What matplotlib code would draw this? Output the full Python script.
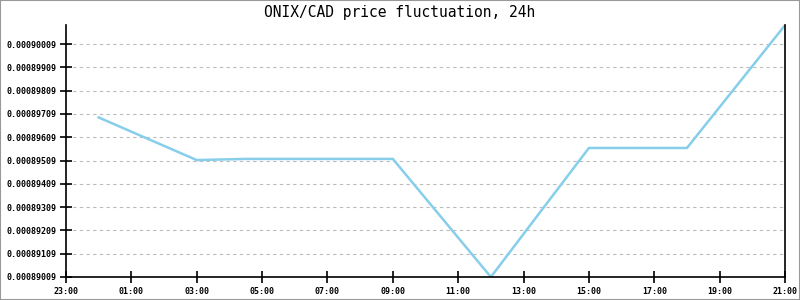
import matplotlib
matplotlib.use("Agg")
import matplotlib.pyplot as plt
from matplotlib.patches import Rectangle

# data
time_labels = ["00:00", "03:00", "04:30", "09:00", "12:00", "15:00", "18:00", "21:00"]
hours_from_start = [1, 4, 5.5, 10, 13, 16, 19, 22]   # hours after 23:00
prices = [0.00089694, 0.00089511, 0.00089516, 0.00089516, 0.00089009,
          0.00089563, 0.00089563, 0.00090090]
xtick_labels = ["23:00", "01:00", "03:00", "05:00", "07:00", "09:00",
                "11:00", "13:00", "15:00", "17:00", "19:00", "21:00"]
ytick_values = [0.00089009, 0.00089109, 0.00089209, 0.00089309, 0.00089409,
                0.00089509, 0.00089609, 0.00089709, 0.00089809, 0.00089909,
                0.00090009]
title = "ONIX/CAD price fluctuation, 24h"

mono = ["DejaVu Sans Mono"]

fig = plt.figure(figsize=(8, 3), dpi=100)
fig.patch.set_facecolor("white")
fig.patches.append(Rectangle((0, 0), 1, 1, transform=fig.transFigure,
                             fill=False, edgecolor="#999999", linewidth=1.5))

ax = fig.add_axes([66 / 800, 1 - 277 / 300, (785 - 66) / 800, (277 - 25) / 300])
ax.plot(hours_from_start, prices, color="#87CEEB", linewidth=1.8,
        solid_joinstyle="miter")

ax.set_xlim(0, 22)
ax.set_ylim(0.00089009, 0.00090091)
ax.set_xticks(range(0, 23, 2))
ax.set_xticklabels(xtick_labels, fontfamily=mono, fontsize=6, fontweight="bold")
ax.set_yticks(ytick_values)
ax.set_yticklabels(["%.8f" % v for v in ytick_values], fontfamily=mono,
                   fontsize=6, fontweight="bold")

ax.yaxis.grid(True, linestyle=(0, (3, 3)), color="#bbbbbb", linewidth=0.8)
ax.xaxis.grid(False)
ax.set_axisbelow(True)

ax.spines["top"].set_visible(False)
for s in ("left", "right", "bottom"):
    ax.spines[s].set_color("black")
    ax.spines[s].set_linewidth(1.2)

ax.tick_params(axis="both", direction="inout", length=8, width=1.2,
               color="black", pad=3)

fig.text(0.5, 1 - 13 / 300, title, ha="center", va="center",
         fontfamily=mono, fontsize=10.5)

fig.savefig("out.png", dpi=100)
